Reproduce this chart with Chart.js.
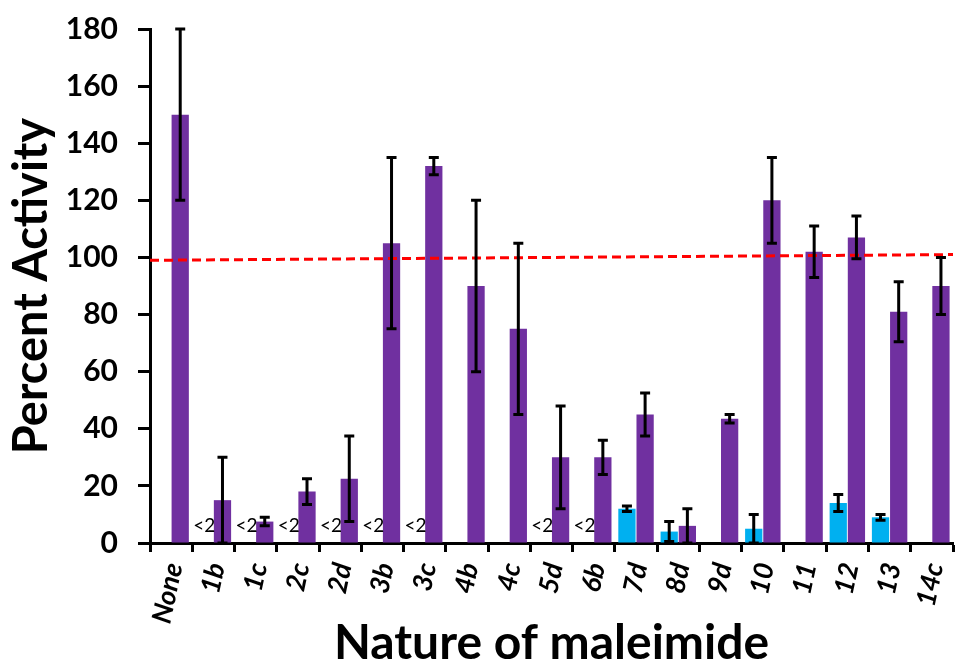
<!DOCTYPE html>
<html>
<head>
<meta charset="utf-8">
<script src="https://cdn.jsdelivr.net/npm/chart.js@4.4.0/dist/chart.umd.min.js"></script>
<style>
body { margin: 0; background: #fff; }
#wrap { width: 956px; height: 667px; }
</style>
</head>
<body>
<div id="wrap"><canvas id="canva"></canvas></div>
<script>
const labels = ['None', '1b', '1c', '2c', '2d', '3b', '3c', '4b', '4c', '5d', '6b', '7d', '8d', '9d', '10', '11', '12', '13', '14c'];
const purple = [150, 15, 7.5, 18, 22.5, 105, 132, 90, 75, 30, 30, 45, 6, 43.5, 120, 102, 107, 81, 90];
const purpleErr = [30, 15, 1.5, 4.5, 15, 30, 3, 30, 30, 18, 6, 7.5, 6, 1.5, 15, 9, 7.5, 10.5, 10];
const cyan = [null, null, null, null, null, null, null, null, null, null, null, 12, 4, null, 5, null, 14, 9, null];
const cyanErr = [0, 0, 0, 0, 0, 0, 0, 0, 0, 0, 0, 1, 3.5, 0, 5, 0, 3, 1, 0];
const belowLimit = ['', '<2', '<2', '<2', '<2', '<2', '<2', '', '', '<2', '<2', '', '', '', '', '', '', '', ''];
const refLine = [99, 101];
const yMax = 180;
const yStep = 20;

const ctx = document.getElementById('canva');

// error bars, the "<2" marks and the dashed 100% line
const extras = {
    id: 'extras',
    afterDatasetsDraw(chart) {
        const c = chart.ctx;
        const y = chart.scales.y;
        const area = chart.chartArea;

        // dashed reference line
        c.save();
        c.strokeStyle = '#ff0000';
        c.lineWidth = 3;
        c.setLineDash([9, 5]);
        c.beginPath();
        c.moveTo(area.left, y.getPixelForValue(refLine[0]));
        c.lineTo(area.right, y.getPixelForValue(refLine[1]));
        c.stroke();
        c.restore();

        const errs = [cyanErr, purpleErr];
        const vals = [cyan, purple];
        c.save();
        c.strokeStyle = '#000';
        c.lineWidth = 3;
        for (let d = 0; d < 2; d++) {
            const meta = chart.getDatasetMeta(d);
            meta.data.forEach((bar, i) => {
                const v = vals[d][i];
                if (v === null || !errs[d][i]) return;
                const top = y.getPixelForValue(v + errs[d][i]);
                const bot = y.getPixelForValue(Math.max(0, v - errs[d][i]));
                c.beginPath();
                c.moveTo(bar.x, top); c.lineTo(bar.x, bot);
                c.moveTo(bar.x - 5, top); c.lineTo(bar.x + 5, top);
                c.moveTo(bar.x - 5, bot); c.lineTo(bar.x + 5, bot);
                c.stroke();
            });
        }
        c.restore();

        // "<2" where the second measurement is below detection
        const pm = chart.getDatasetMeta(1);
        c.save();
        c.font = '19px Lato';
        c.fillStyle = '#000';
        c.textAlign = 'center';
        c.textBaseline = 'middle';
        belowLimit.forEach((t, i) => {
            if (!t) return;
            const b = pm.data[i];
            c.fillText(t, b.x - b.width - 1, y.getPixelForValue(0) - 17);
        });
        c.restore();
    }
};

new Chart(ctx, {
    type: 'bar',
    data: {
        labels: labels,
        datasets: [{
            label: 'b',
            data: cyan,
            backgroundColor: '#00b0f0',
            categoryPercentage: 0.86,
            barPercentage: 0.95
        }, {
            label: 'a',
            data: purple,
            backgroundColor: '#7030a0',
            categoryPercentage: 0.86,
            barPercentage: 0.95
        }]
    },
    plugins: [extras],
    options: {
        responsive: true,
        maintainAspectRatio: false,
        animation: false,
        layout: { padding: { top: 29, right: 3, left: 0, bottom: 0 } },
        plugins: {
            legend: { display: false },
            tooltip: { enabled: false }
        },
        scales: {
            x: {
                afterFit: s => { s.height = 124; s.paddingLeft = 0; s.paddingRight = 0; },
                grid: { offset: true, drawOnChartArea: false, tickLength: 9, tickWidth: 3, tickColor: '#000' },
                border: { color: '#000', width: 3 },
                ticks: {
                    color: '#000',
                    font: { family: 'Lato', size: 27, style: 'italic', weight: 'bold' },
                    minRotation: 78,
                    maxRotation: 78,
                    padding: 8,
                    labelOffset: 3
                },
                title: {
                    display: true,
                    text: 'Nature of maleimide',
                    color: '#000',
                    font: { family: 'Lato', size: 48, weight: 'bold' },
                    padding: { top: 0, bottom: -5 }
                }
            },
            y: {
                min: 0,
                max: yMax,
                afterFit: s => { s.width = 150; s.paddingTop = 0; s.paddingBottom = 0; },
                grid: { drawOnChartArea: false, tickLength: 12, tickWidth: 3, tickColor: '#000' },
                border: { color: '#000', width: 3 },
                ticks: {
                    stepSize: yStep,
                    color: '#000',
                    padding: 20,
                    font: { family: 'Lato', size: 30, weight: 'bold' }
                },
                title: {
                    display: true,
                    text: 'Percent Activity',
                    color: '#000',
                    font: { family: 'Lato', size: 47, weight: 'bold' },
                    padding: { top: 4, bottom: 0 }
                }
            }
        }
    }
});
</script>
</body>
</html>
